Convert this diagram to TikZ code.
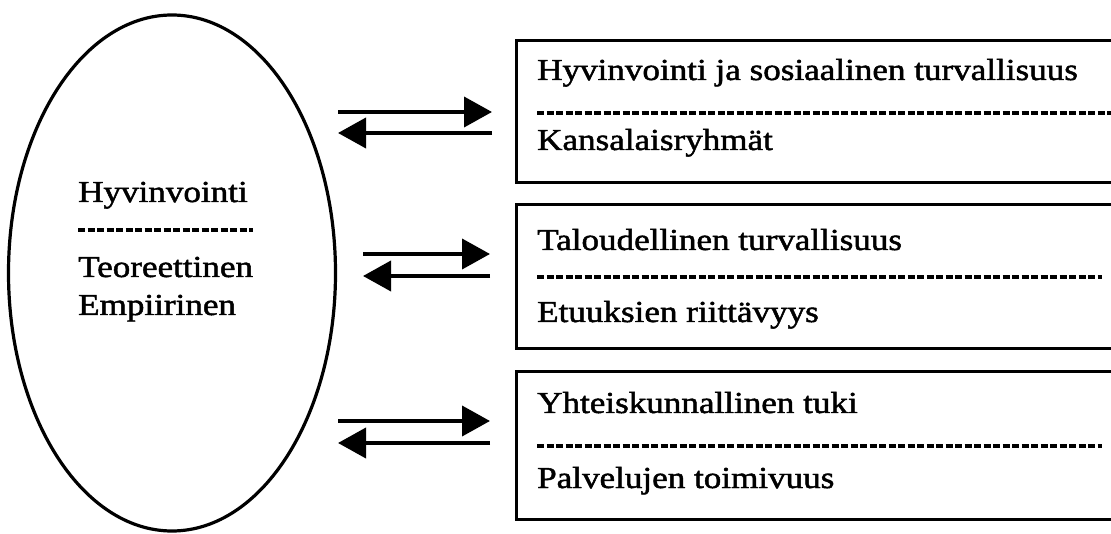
\documentclass[tikz,border=0pt]{standalone}
\usepackage{fontspec}
\setmainfont{Liberation Serif}[FakeStretch=1.15,FakeBold=1.6]
\usetikzlibrary{arrows.meta,shapes.geometric}
\begin{document}
\begin{tikzpicture}[x=1pt,y=-1pt,
  lbl/.style={anchor=base west, inner sep=0pt, font=\fontsize{30.5}{36}\selectfont},
  frame/.style={draw, line width=3.2pt, anchor=north west, minimum width=640pt, inner sep=0pt},
  sep/.style={line width=3.2pt, dash pattern=on 7pt off 2.5pt},
  flow/.style={line width=3.8pt, -{Triangle[length=28pt,width=30pt]}}]
\clip (0,0) rectangle (1111,534);
\node[draw, ellipse, line width=3.2pt, minimum width=327pt, minimum height=516pt, inner sep=0pt] (E) at (172,273) {};
% ellipse text
\node[lbl] (e1) at (78,202) {Hyvinvointi};
\coordinate (es) at (78,230); \coordinate (ee) at (253,230);
\draw[sep] (es) -- (ee);
\node[lbl] (e2) at (78,277) {Teoreettinen};
\node[lbl] (e3) at (78,315) {Empiirinen};
% boxes
\node[frame, minimum height=142pt] (B1) at (515,39) {};
\node[frame, minimum height=144pt] (B2) at (515,203) {};
\node[frame, minimum height=148pt] (B3) at (515,370) {};
\node[lbl] (t1) at (537,80) {Hyvinvointi ja sosiaalinen turvallisuus};
\coordinate (d1s) at (537,113); \coordinate (d1e) at (1111,113);
\draw[sep] (d1s) -- (d1e);
\node[lbl] (t2) at (537,150) {Kansalaisryhmät};
\node[lbl] (t3) at (537,250) {Taloudellinen turvallisuus};
\coordinate (d2s) at (537,277); \coordinate (d2e) at (1102,277);
\draw[sep] (d2s) -- (d2e);
\node[lbl] (t4) at (537,322) {Etuuksien riittävyys};
\node[lbl] (t5) at (537,413) {Yhteiskunnallinen tuki};
\coordinate (d3s) at (537,446); \coordinate (d3e) at (1102,446);
\draw[sep] (d3s) -- (d3e);
\node[lbl] (t6) at (537,488) {Palvelujen toimivuus};
% arrows
\coordinate (a1l) at (338,112); \coordinate (a1r) at (492,112);
\coordinate (b1l) at (338,133); \coordinate (b1r) at (492,133);
\coordinate (a2l) at (363,254); \coordinate (a2r) at (490,254);
\coordinate (b2l) at (363,276); \coordinate (b2r) at (490,276);
\coordinate (a3l) at (338,421); \coordinate (a3r) at (490,421);
\coordinate (b3l) at (338,443); \coordinate (b3r) at (490,443);
\draw[flow] (a1l) -- (a1r);
\draw[flow] (b1r) -- (b1l);
\draw[flow] (a2l) -- (a2r);
\draw[flow] (b2r) -- (b2l);
\draw[flow] (a3l) -- (a3r);
\draw[flow] (b3r) -- (b3l);
\end{tikzpicture}
\end{document}
